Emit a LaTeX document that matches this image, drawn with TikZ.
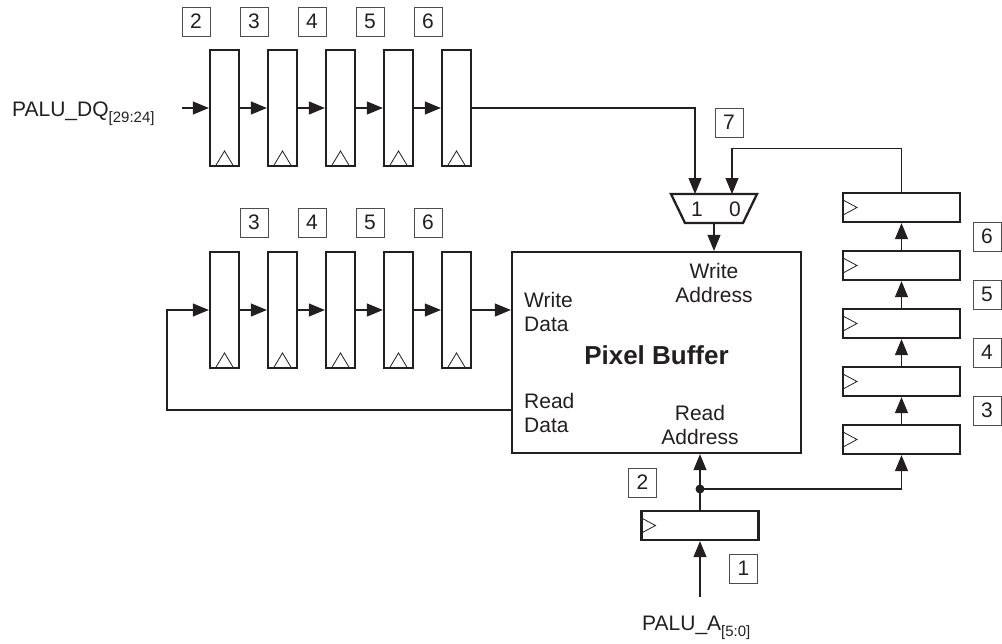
\documentclass[tikz,border=0pt]{standalone}
\usepackage{fontspec}
\setmainfont{Liberation Sans}
\usetikzlibrary{arrows.meta,calc}
\definecolor{ink}{RGB}{35,31,32}
\begin{document}
\begin{tikzpicture}[x=1pt,y=-1pt,
  line/.style={draw=ink, line width=1.1pt},
  arr/.style={line, -{Triangle[length=16pt,width=13pt]}},
  vreg/.style={draw=ink, line width=2.3pt, minimum width=29pt, minimum height=116pt, inner sep=0pt,
    path picture={\draw[ink, line width=0.8pt] ([xshift=-9pt]path picture bounding box.south) -- ([yshift=15pt]path picture bounding box.south) -- ([xshift=9pt]path picture bounding box.south);}},
  hreg/.style={draw=ink, line width=2.3pt, minimum width=117pt, minimum height=29pt, inner sep=0pt,
    path picture={\draw[ink, line width=0.8pt] ([yshift=7.5pt]path picture bounding box.west) -- ([xshift=14pt]path picture bounding box.west) -- ([yshift=-7.5pt]path picture bounding box.west);}},
  lbl/.style={draw=ink!80, line width=0.8pt, minimum width=28pt, minimum height=29pt, inner sep=0pt, text=ink, font=\fontsize{21}{24}\selectfont},
  txt/.style={inner sep=0pt, text=ink, font=\fontsize{21}{24}\selectfont},
  bold/.style={inner sep=0pt, text=ink, font=\bfseries\fontsize{26}{30}\selectfont}]
\useasboundingbox (0,0) rectangle (1002,643);

% top register row
\node[vreg] (T1) at (224.5,108) {};
\node[vreg] (T2) at (282.5,108) {};
\node[vreg] (T3) at (340.5,108) {};
\node[vreg] (T4) at (398.5,108) {};
\node[vreg] (T5) at (456.5,108) {};
\node[lbl] (lt2) at (196,21.5) {2};
\node[lbl] (lt3) at (254,21.5) {3};
\node[lbl] (lt4) at (312,21.5) {4};
\node[lbl] (lt5) at (370,21.5) {5};
\node[lbl] (lt6) at (428,21.5) {6};
\node[txt, anchor=base west] (dq) at (12,116) {PALU\_DQ\raisebox{-6pt}{\fontsize{15}{15}\selectfont[29:24]}};
\coordinate (dqin) at (182,108);

% bottom register row
\node[vreg] (B1) at (224.5,310) {};
\node[vreg] (B2) at (282.5,310) {};
\node[vreg] (B3) at (340.5,310) {};
\node[vreg] (B4) at (398.5,310) {};
\node[vreg] (B5) at (456.5,310) {};
\node[lbl] (lb3) at (254,222.5) {3};
\node[lbl] (lb4) at (312,222.5) {4};
\node[lbl] (lb5) at (370,222.5) {5};
\node[lbl] (lb6) at (428,222.5) {6};

% pixel buffer
\node[draw=ink, line width=2.3pt, minimum width=289pt, minimum height=201pt, inner sep=0pt] (buf) at (656.5,352.5) {};
\node[txt, align=left, anchor=north west] (wd) at (524,292) {Write\\Data};
\node[txt, align=left, anchor=north west] (rd) at (524,393) {Read\\Data};
\node[txt, align=center, anchor=north] (wa) at (714,263) {Write\\Address};
\node[txt, align=center, anchor=north] (ra) at (700,405) {Read\\Address};
\node[bold] (pb) at (656.5,355.5) {Pixel Buffer};
\coordinate (rdat) at (512,410);

% mux
\draw[draw=ink, line width=2.3pt] (671,194) -- (757,194) -- (743,223) -- (685,223) -- cycle;
\coordinate (mi1) at (695,194);
\coordinate (mi0) at (732,194);
\coordinate (mo) at (714,223);
\node[txt] (m1) at (697,209) {1};
\node[txt] (m0) at (735,209) {0};
\node[lbl] (l7) at (729,122.5) {7};

% right register stack
\node[hreg] (R3) at (901.5,439.5) {};
\node[hreg] (R4) at (901.5,381.5) {};
\node[hreg] (R5) at (901.5,323.5) {};
\node[hreg] (R6) at (901.5,265.5) {};
\node[hreg] (R7) at (901.5,207.5) {};
\node[lbl] (lr3) at (987,410.5) {3};
\node[lbl] (lr4) at (987,352.5) {4};
\node[lbl] (lr5) at (987,294.5) {5};
\node[lbl] (lr6) at (987,236.5) {6};

% bottom address register
\node[hreg] (BR) at (700,525.5) {};
\node[lbl] (lbr2) at (642.5,482.5) {2};
\node[lbl] (lbr1) at (743.5,568.5) {1};
\coordinate (dot) at (700,489);
\coordinate (ain) at (700,597);
\node[txt, anchor=base west] (pa) at (642,630) {PALU\_A\raisebox{-6pt}{\fontsize{15}{15}\selectfont[5:0]}};

% connectors: top row
\draw[arr] (dqin) -- (T1);
\draw[arr] (T1) -- (T2);
\draw[arr] (T2) -- (T3);
\draw[arr] (T3) -- (T4);
\draw[arr] (T4) -- (T5);
\draw[arr] (T5.east) -| (mi1);

% bottom row
\draw[arr] (rdat) -- ++(-345,0) |- (B1);
\draw[arr] (B1) -- (B2);
\draw[arr] (B2) -- (B3);
\draw[arr] (B3) -- (B4);
\draw[arr] (B4) -- (B5);
\draw[arr] (B5) -- (B5 -| buf.west);

% mux connections
\draw[arr] (R7.north) -- ++(0,-43) -| (mi0);
\draw[arr] (mo) -- (mo |- buf.north);

% right stack
\draw[arr] (R3) -- (R4);
\draw[arr] (R4) -- (R5);
\draw[arr] (R5) -- (R6);
\draw[arr] (R6) -- (R7);

% read address
\draw[arr] (ain) -- (BR);
\draw[line] (BR) -- (dot);
\draw[arr] (dot) -- (dot |- buf.south);
\draw[arr] (dot) -| (R3);
\fill[ink] (dot) circle[radius=4.5pt];
\end{tikzpicture}
\end{document}
